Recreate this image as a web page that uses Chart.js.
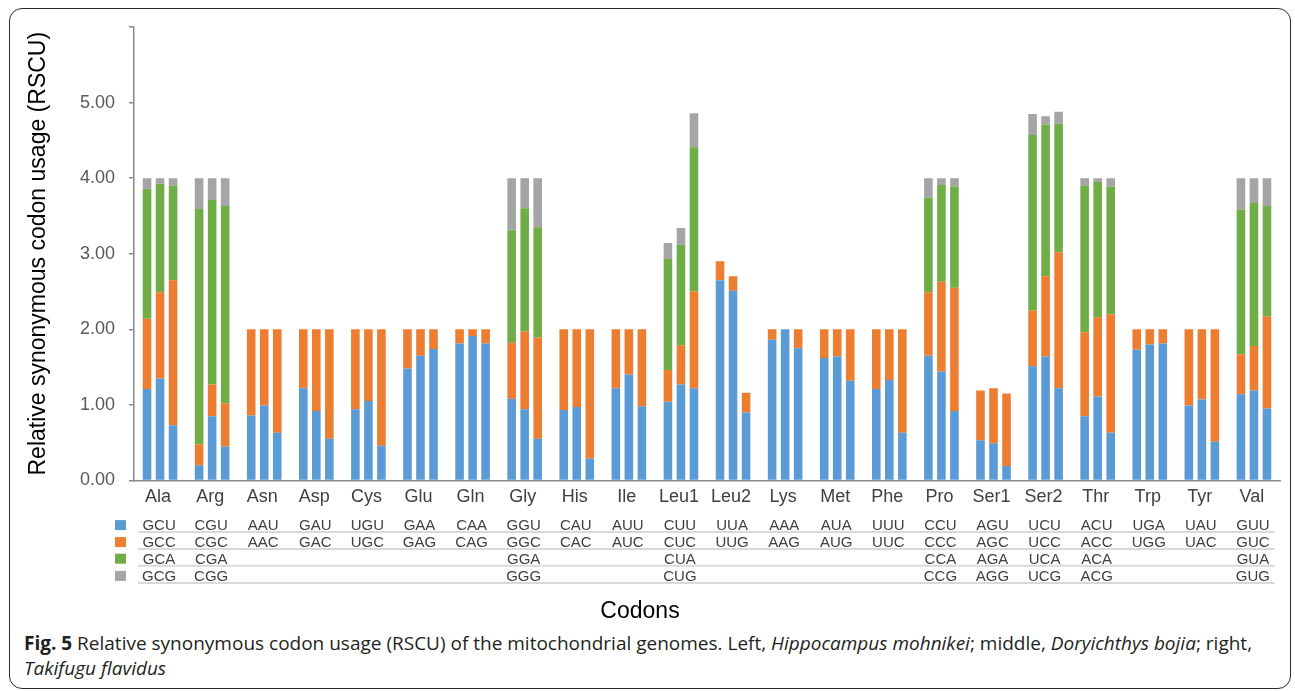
<!DOCTYPE html>
<html><head><meta charset="utf-8">
<script src="https://cdn.jsdelivr.net/npm/chart.js@4.4.1/dist/chart.umd.min.js"></script>
<style>
html,body{margin:0;padding:0;background:#fff;width:1295px;height:691px;overflow:hidden;}
#frame{position:absolute;left:9px;top:8px;width:1280px;height:679px;border:1.5px solid #2b2b2b;border-radius:13px;}
#c{position:absolute;left:0;top:0;}
#caption{position:absolute;left:24px;top:631px;font-family:'Open Sans',sans-serif;font-size:19px;line-height:25px;color:#231f20;white-space:nowrap;}
#caption b{font-weight:700;}
</style></head>
<body>
<div id="frame"></div>
<canvas id="c" width="1295" height="630"></canvas>
<div id="caption"><b>Fig. 5</b> Relative synonymous codon usage (RSCU) of the mitochondrial genomes. Left, <i>Hippocampus mohnikei</i>; middle, <i>Doryichthys bojia</i>; right,<br><i>Takifugu flavidus</i></div>
<script>
const aminoAcids = ['Ala','Arg','Asn','Asp','Cys','Glu','Gln','Gly','His','Ile','Leu1','Leu2','Lys','Met','Phe','Pro','Ser1','Ser2','Thr','Trp','Tyr','Val'];

const codon1 = ['GCU','CGU','AAU','GAU','UGU','GAA','CAA','GGU','CAU','AUU','CUU','UUA','AAA','AUA','UUU','CCU','AGU','UCU','ACU','UGA','UAU','GUU'];
const codon2 = ['GCC','CGC','AAC','GAC','UGC','GAG','CAG','GGC','CAC','AUC','CUC','UUG','AAG','AUG','UUC','CCC','AGC','UCC','ACC','UGG','UAC','GUC'];
const codon3 = ['GCA','CGA','','','','','','GGA','','','CUA','','','','','CCA','AGA','UCA','ACA','','','GUA'];
const codon4 = ['GCG','CGG','','','','','','GGG','','','CUG','','','','','CCG','AGG','UCG','ACG','','','GUG'];

// Hippocampus mohnikei (left bar)
const hm1 = [1.21,0.20,0.86,1.22,0.94,1.48,1.81,1.08,0.93,1.22,1.04,2.65,1.86,1.62,1.21,1.65,0.53,1.51,0.85,1.73,0.99,1.14];
const hm2 = [0.93,0.28,1.14,0.78,1.06,0.52,0.19,0.74,1.07,0.78,0.42,0.25,0.14,0.38,0.79,0.84,0.66,0.74,1.11,0.27,1.01,0.53];
const hm3 = [1.72,3.11,0,0,0,0,0,1.49,0,0,1.47,0,0,0,0,1.25,0,2.32,1.94,0,0,1.91];
const hm4 = [0.14,0.41,0,0,0,0,0,0.69,0,0,0.21,0,0,0,0,0.26,0,0.28,0.10,0,0,0.42];
// Doryichthys bojia (middle bar)
const db1 = [1.35,0.85,0.99,0.92,1.05,1.65,1.91,0.94,0.97,1.40,1.27,2.51,2.00,1.64,1.33,1.44,0.49,1.64,1.11,1.80,1.07,1.19];
const db2 = [1.14,0.42,1.01,1.08,0.95,0.35,0.09,1.03,1.03,0.60,0.52,0.19,0,0.36,0.67,1.19,0.73,1.06,1.05,0.20,0.93,0.59];
const db3 = [1.44,2.44,0,0,0,0,0,1.63,0,0,1.33,0,0,0,0,1.28,0,2.01,1.79,0,0,1.89];
const db4 = [0.07,0.29,0,0,0,0,0,0.40,0,0,0.22,0,0,0,0,0.09,0,0.11,0.05,0,0,0.33];
// Takifugu flavidus (right bar)
const tf1 = [0.73,0.45,0.63,0.55,0.46,1.74,1.81,0.55,0.29,0.98,1.22,0.90,1.75,1.32,0.63,0.92,0.19,1.22,0.63,1.81,0.51,0.95];
const tf2 = [1.92,0.57,1.37,1.45,1.54,0.26,0.19,1.34,1.71,1.02,1.28,0.26,0.25,0.68,1.37,1.63,0.96,1.80,1.57,0.19,1.49,1.22];
const tf3 = [1.25,2.61,0,0,0,0,0,1.46,0,0,1.91,0,0,0,0,1.34,0,1.70,1.69,0,0,1.46];
const tf4 = [0.10,0.37,0,0,0,0,0,0.65,0,0,0.45,0,0,0,0,0.11,0,0.16,0.11,0,0,0.37];

const yTicks = [0,1,2,3,4,5,6];

const colors = ['#5B9BD5','#ED7D31','#70AD47','#A5A5A5'];
const codonRows = [codon1, codon2, codon3, codon4];
const series = {hm:[hm1,hm2,hm3,hm4], db:[db1,db2,db3,db4], tf:[tf1,tf2,tf3,tf4]};

const datasets = [];
for (let k = 0; k < 4; k++) {
  for (const sp of ['hm','db','tf']) {
    datasets.push({
      label: sp + (k+1),
      data: series[sp][k],
      stack: sp,
      backgroundColor: colors[k],
      borderWidth: 0,
      categoryPercentage: 0.75,
      barPercentage: 0.66
    });
  }
}

const FONT = "'Liberation Sans', Arial, sans-serif";

const tablePlugin = {
  id: 'dataTable',
  afterDraw(chart) {
    const ctx = chart.ctx;
    const xs = chart.scales.x;
    const area = chart.chartArea;
    const rowCenters = [44.7, 61.7, 78.3, 95.5];
    const lineOffsets = [51.7, 68.7, 85.3, 102.7];
    ctx.save();
    ctx.strokeStyle = '#d9d9d9';
    ctx.lineWidth = 2;
    lineOffsets.forEach(o => {
      ctx.beginPath();
      ctx.moveTo(area.left + 4, area.bottom + o);
      ctx.lineTo(area.right - 5, area.bottom + o);
      ctx.stroke();
    });
    ctx.font = '15px ' + FONT;
    ctx.fillStyle = '#404040';
    ctx.textAlign = 'center';
    ctx.textBaseline = 'middle';
    codonRows.forEach((row, r) => {
      row.forEach((txt, i) => {
        if (txt) ctx.fillText(txt, xs.getPixelForValue(i) - 1, area.bottom + rowCenters[r] + 1);
      });
      ctx.fillStyle = colors[r];
      ctx.fillRect(115, area.bottom + rowCenters[r] - 5, 11, 10);
      ctx.fillStyle = '#404040';
    });
    ctx.restore();
  }
};

new Chart(document.getElementById('c'), {
  type: 'bar',
  data: { labels: aminoAcids, datasets },
  options: {
    responsive: false,
    animation: false,
    layout: { padding: { left: 0, right: 15, top: 27, bottom: 0 } },
    plugins: {
      legend: { display: false },
      tooltip: { enabled: false },
      title: {
        display: true, position: 'bottom', text: 'Codons',
        color: '#000', font: { family: FONT, size: 23, weight: 'normal' },
        padding: { top: 0, bottom: 5 }
      }
    },
    scales: {
      x: {
        stacked: true,
        grid: { display: false, drawTicks: false },
        border: { display: true, color: '#8a8a8a', width: 1.5 },
        ticks: { color: '#404040', font: { family: FONT, size: 18 }, padding: 6, maxRotation: 0, autoSkip: false, labelOffset: -2 },
        afterFit(s) { s.height = 117; }
      },
      y: {
        stacked: true,
        min: 0, max: 6,
        afterBuildTicks(s) { s.ticks = yTicks.map(v => ({ value: v })); },
        grid: { display: true, drawOnChartArea: false, drawTicks: true, tickLength: 5, color: '#8a8a8a', lineWidth: 1.5 },
        border: { display: true, color: '#8a8a8a', width: 1.5 },
        ticks: { color: '#595959', font: { family: FONT, size: 18 }, padding: 14,
                 callback: v => v === 6 ? '' : Number(v).toFixed(2) },
        title: { display: true, text: 'Relative synonymous codon usage (RSCU)', color: '#000',
                 font: { family: FONT, size: 23 }, padding: { top: 25, bottom: 0 } },
        afterFit(s) { s.width = 134; }
      }
    }
  },
  plugins: [tablePlugin]
});
</script>
</body></html>
